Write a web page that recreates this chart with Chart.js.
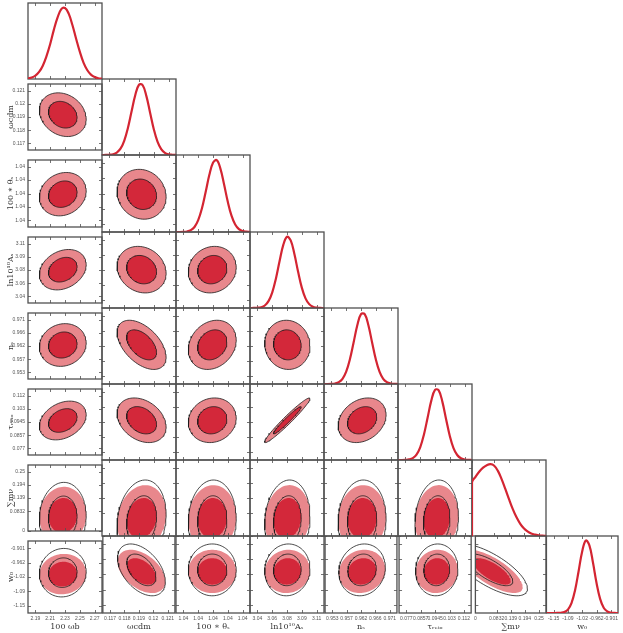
<!DOCTYPE html>
<html>
<head>
<meta charset="utf-8">
<script src="https://cdn.jsdelivr.net/npm/chart.js@4.4.1/dist/chart.umd.min.js"></script>
<style>
  body { margin: 0; background: #fff; }
  #wrap { position: relative; width: 623px; height: 633px; overflow: hidden; background: #fff; }
  #wrap canvas { position: absolute; }
</style>
</head>
<body>
<div id="wrap"></div>
<script>
// parameters, in plotting order
const paramNames = ['100 ωb', 'ωcdm', '100 ∗ θₛ', 'ln10¹⁰Aₛ', 'nₛ', 'τᵣₑᵢₒ', '∑mν', 'w₀'];
const axisMin = [2.18, 0.1165, 1.04015, 3.03125, 0.95075, 0.072625, 0, -1.18];
const axisMax = [2.28, 0.1215, 1.04165, 3.11875, 0.97325, 0.116375, 0.2775, -0.87];
const tickVals = [
  [2.19, 2.21, 2.23, 2.25, 2.27],
  [0.117, 0.118, 0.119, 0.12, 0.121],
  [1.0403, 1.0406, 1.0409, 1.0412, 1.0415],
  [3.04, 3.0575, 3.075, 3.0925, 3.11],
  [0.953, 0.9575, 0.962, 0.9665, 0.971],
  [0.077, 0.08575, 0.0945, 0.10325, 0.112],
  [0, 0.0832, 0.139, 0.194, 0.25],
  [-1.149, -1.087, -1.025, -0.963, -0.901]
];
const tickText = [
  ['2.19', '2.21', '2.23', '2.25', '2.27'],
  ['0.117', '0.118', '0.119', '0.12', '0.121'],
  ['1.04', '1.04', '1.04', '1.04', '1.04'],
  ['3.04', '3.06', '3.08', '3.09', '3.11'],
  ['0.953', '0.957', '0.962', '0.966', '0.971'],
  ['0.077', '0.0857', '0.0945', '0.103', '0.112'],
  ['0', '0.0832', '0.139', '0.194', '0.25'],
  ['-1.15', '-1.09', '-1.02', '-0.962', '-0.901']
];

// 2D contours: MCMC (filled) and Fisher (black lines)
const mcmcMean = [2.227, 0.119175, 1.040885, 3.0754, 0.96234, 0.0955, 0.065, -1.0126];
const mcmcSigma = [0.0127, 0.000665, 0.000195, 0.01076, 0.002925, 0.00516, 0.0485, 0.035];
const fisherMean = [2.227, 0.119175, 1.040885, 3.0754, 0.96234, 0.0955, 0.0568, -1.0064];
const fisherSigma = [0.0127, 0.000665, 0.000195, 0.01076, 0.002925, 0.00516, 0.0593, 0.0419];
const corr = [
  [],
  [-0.2],
  [0.15, -0.1],
  [0.25, -0.15, 0.1],
  [0.1, -0.5, 0.2, -0.05],
  [0.3, -0.3, 0.1, 0.97, 0.25],
  [0.05, 0.15, 0.05, 0.1, 0.05, 0.1],
  [0.05, -0.45, 0.0, 0.05, 0.1, 0.05, -0.72]
];
const levels = [1.52, 2.49]; // 68% and 95% in 2D

// 1D marginals, heights read at 21 even steps across each axis
const pdfOmegaB = [0.007, 0.019, 0.044, 0.093, 0.175, 0.30, 0.46, 0.65, 0.81, 0.92, 0.935, 0.86, 0.71, 0.53, 0.36, 0.215, 0.118, 0.058, 0.026, 0.010, 0.004];
const pdfOmegaCdm = [0, 0.001, 0.003, 0.010, 0.032, 0.083, 0.187, 0.355, 0.575, 0.79, 0.924, 0.918, 0.775, 0.557, 0.34, 0.176, 0.078, 0.029, 0.009, 0.003, 0.001];
const pdfTheta = [0, 0, 0.002, 0.007, 0.024, 0.065, 0.154, 0.305, 0.515, 0.739, 0.90, 0.934, 0.823, 0.616, 0.392, 0.212, 0.098, 0.038, 0.013, 0.004, 0.001];
const pdfLnAs = [0, 0.001, 0.003, 0.010, 0.033, 0.090, 0.203, 0.386, 0.618, 0.830, 0.937, 0.889, 0.709, 0.476, 0.268, 0.127, 0.051, 0.017, 0.005, 0.001, 0];
const pdfNs = [0, 0, 0.002, 0.007, 0.024, 0.068, 0.162, 0.325, 0.546, 0.773, 0.920, 0.920, 0.773, 0.546, 0.325, 0.162, 0.068, 0.024, 0.007, 0.002, 0];
const pdfTau = [0, 0, 0.002, 0.0075, 0.025, 0.071, 0.167, 0.333, 0.556, 0.781, 0.923, 0.917, 0.765, 0.537, 0.317, 0.157, 0.066, 0.023, 0.007, 0.002, 0];
const pdfSumMnu = [0.706, 0.782, 0.848, 0.899, 0.931, 0.945, 0.925, 0.857, 0.749, 0.62, 0.484, 0.357, 0.249, 0.164, 0.102, 0.060, 0.033, 0.018, 0.009, 0.004, 0.002];
const pdfW0 = [0, 0, 0, 0.0005, 0.003, 0.012, 0.044, 0.128, 0.296, 0.546, 0.803, 0.941, 0.879, 0.655, 0.389, 0.184, 0.069, 0.021, 0.005, 0.001, 0];
const pdfs = [pdfOmegaB, pdfOmegaCdm, pdfTheta, pdfLnAs, pdfNs, pdfTau, pdfSumMnu, pdfW0];

const lightRed = '#e8878c';
const darkRed = '#d3283a';
const curveRed = '#d42532';
const frameColor = '#505050';

const N = paramNames.length;
const wrap = document.getElementById('wrap');

function ellipse(cx, cy, sx, sy, r, k) {
  const pts = [];
  const q = Math.sqrt(1 - r * r);
  for (let a = 0; a <= 90; a++) {
    const t = a / 90 * 2 * Math.PI;
    pts.push({ x: cx + k * sx * Math.cos(t), y: cy + k * sy * (r * Math.cos(t) + q * Math.sin(t)) });
  }
  return pts;
}

function pdfPoints(i) {
  const step = (axisMax[i] - axisMin[i]) / (pdfs[i].length - 1);
  const pts = pdfs[i].map((h, k) => ({ x: axisMin[i] + k * step, y: h }));
  if (axisMin[i] === 0) pts.unshift({ x: 0, y: 0 }); // hard prior edge
  return pts;
}

// box + inward tick marks
const frame = {
  id: 'frame',
  draw(chart, o) {
    const { ctx, chartArea: a, scales } = chart;
    ctx.save();
    ctx.strokeStyle = frameColor;
    ctx.lineWidth = 0.8;
    ctx.beginPath();
    for (const v of o.xTicks) {
      const p = Math.round(scales.x.getPixelForValue(v)) + 0.5;
      ctx.moveTo(p, a.top); ctx.lineTo(p, a.top + 3);
      ctx.moveTo(p, a.bottom); ctx.lineTo(p, a.bottom - 3);
    }
    for (const v of (o.yTicks || [])) {
      const p = Math.round(scales.y.getPixelForValue(v)) + 0.5;
      ctx.moveTo(a.left, p); ctx.lineTo(a.left + 3, p);
      ctx.moveTo(a.right, p); ctx.lineTo(a.right - 3, p);
    }
    ctx.stroke();
    ctx.lineWidth = 1.3;
    ctx.strokeRect(a.left, a.top, a.right - a.left, a.bottom - a.top);
    ctx.restore();
  },
  beforeDatasetsDraw(chart, args, o) { if (o.under) this.draw(chart, o); },
  afterDatasetsDraw(chart, args, o) { if (!o.under) this.draw(chart, o); }
};

function panel(i, j) {
  const x0 = Math.round(28 + 74 * i), x1 = Math.round(28 + 74 * (i + 1));
  const y0 = Math.round(3 + 76.2 * j), y1 = Math.round(3 + 76.2 * (j + 1));
  const leftAxis = i === 0 && j > 0;
  const bottomAxis = j === N - 1;
  const cLeft = leftAxis ? 0 : x0 - 1;
  const cTop = y0 - 1;
  const w = x1 + 1 - cLeft;
  const h = (bottomAxis ? 633 : y1 + 1) - cTop;

  const canvas = document.createElement('canvas');
  canvas.width = w; canvas.height = h;
  canvas.style.left = cLeft + 'px';
  canvas.style.top = cTop + 'px';
  wrap.appendChild(canvas);

  let datasets;
  if (i === j) {
    datasets = [{
      data: pdfPoints(i), borderColor: curveRed, borderWidth: 2.2,
      showLine: true, pointRadius: 0, tension: 0.4, fill: false
    }];
  } else {
    const r = corr[j][i];
    datasets = [
      { data: ellipse(mcmcMean[i], mcmcMean[j], mcmcSigma[i], mcmcSigma[j], r, levels[1]),
        backgroundColor: lightRed, borderWidth: 0, fill: 'shape', order: 3 },
      { data: ellipse(mcmcMean[i], mcmcMean[j], mcmcSigma[i], mcmcSigma[j], r, levels[0]),
        backgroundColor: darkRed, borderWidth: 0, fill: 'shape', order: 2 },
      { data: ellipse(fisherMean[i], fisherMean[j], fisherSigma[i], fisherSigma[j], r, levels[1]),
        borderColor: '#1a1a1a', borderWidth: 0.8, fill: false, order: 1 },
      { data: ellipse(fisherMean[i], fisherMean[j], fisherSigma[i], fisherSigma[j], r, levels[0]),
        borderColor: '#1a1a1a', borderWidth: 0.8, fill: false, order: 0 }
    ];
    datasets.forEach(d => { d.showLine = true; d.pointRadius = 0; d.tension = 0; d.clip = 0; });
  }

  const tickFont = { family: 'Liberation Sans', size: 5 };
  const titleFont = { family: 'DejaVu Serif', size: 8 };

  new Chart(canvas, {
    type: 'scatter',
    data: { datasets },
    options: {
      responsive: false,
      animation: false,
      events: [],
      layout: { padding: { left: leftAxis ? 0 : 1, top: 1, right: 1, bottom: bottomAxis ? 0 : 1 } },
      plugins: {
        legend: { display: false },
        tooltip: { enabled: false },
        frame: { xTicks: tickVals[i], yTicks: i === j ? null : tickVals[j], under: i === j }
      },
      scales: {
        x: {
          type: 'linear', min: axisMin[i], max: axisMax[i],
          display: bottomAxis,
          grid: { display: false, drawTicks: false }, border: { display: false },
          afterBuildTicks: s => { s.ticks = tickVals[i].map(v => ({ value: v })); },
          afterFit: s => { if (bottomAxis) s.height = 633 - y1; },
          ticks: { autoSkip: false, maxRotation: 0, minRotation: 0, padding: 3, font: tickFont, color: '#555',
                   callback: (v, k) => tickText[i][k] },
          title: { display: true, text: paramNames[i], font: titleFont, color: '#333', padding: { top: 0, bottom: 1 } }
        },
        y: {
          type: 'linear',
          min: i === j ? 0 : axisMin[j], max: i === j ? 1 : axisMax[j],
          display: leftAxis,
          grid: { display: false, drawTicks: false }, border: { display: false },
          afterBuildTicks: s => { if (i !== j) s.ticks = tickVals[j].map(v => ({ value: v })); },
          afterFit: s => { if (leftAxis) s.width = x0; },
          ticks: { autoSkip: false, padding: 3, font: tickFont, color: '#555',
                   callback: (v, k) => tickText[j][k] },
          title: { display: true, text: paramNames[j], font: titleFont, color: '#333', padding: { top: 6, bottom: 0 } }
        }
      }
    },
    plugins: [frame]
  });
}

for (let j = 0; j < N; j++) {
  for (let i = 0; i <= j; i++) panel(i, j);
}
</script>
</body>
</html>
